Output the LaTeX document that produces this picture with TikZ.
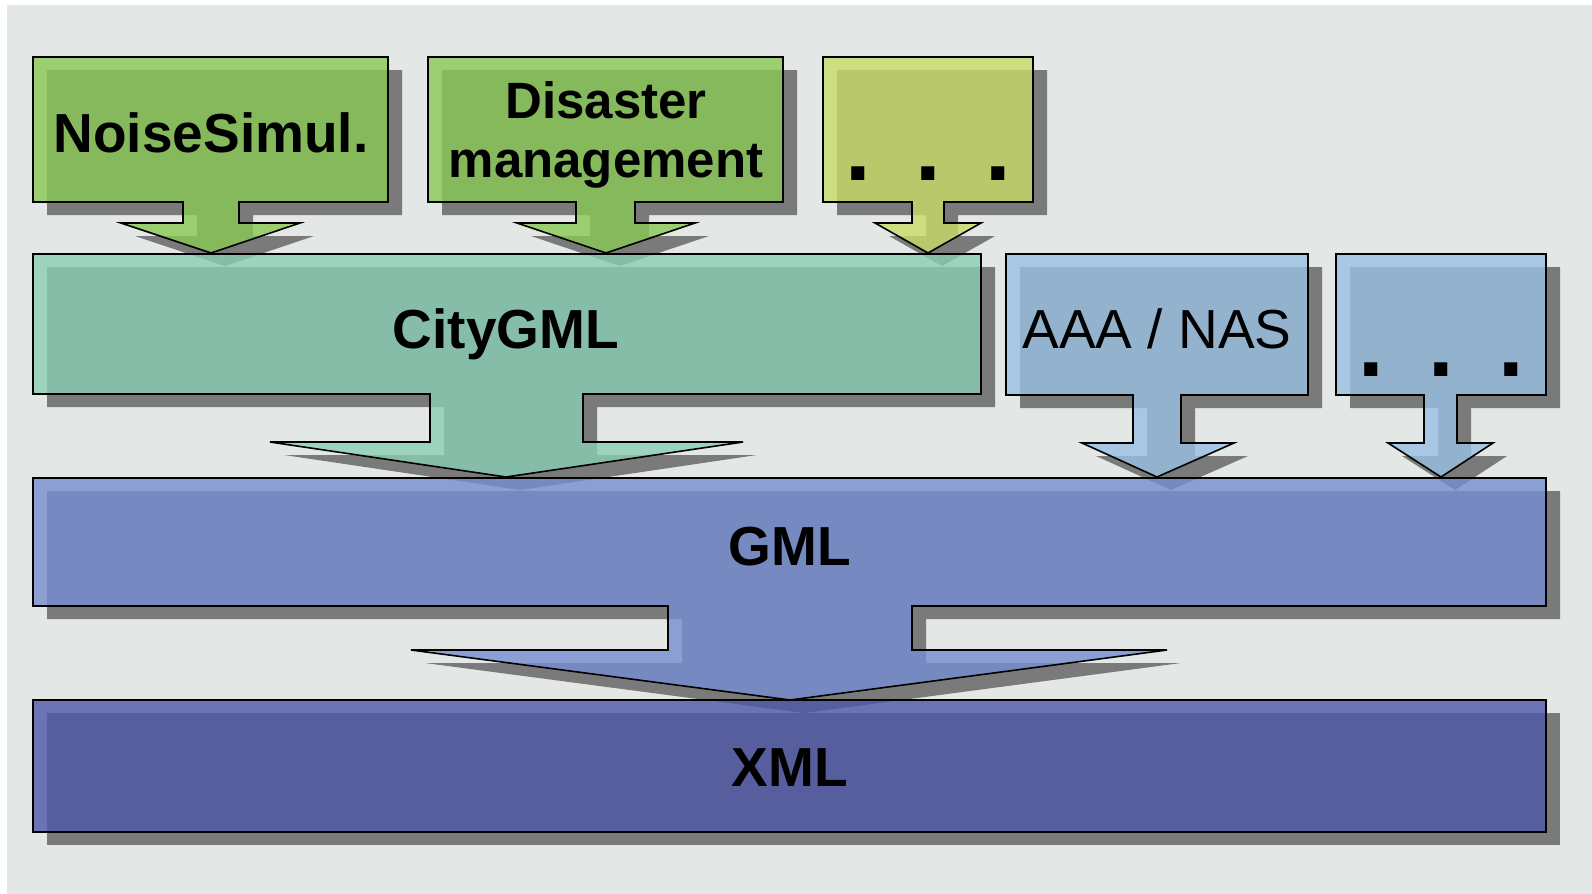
\documentclass[tikz,border=0pt]{standalone}
\usepackage{fontspec}
\setmainfont{Liberation Sans}
\usepackage{xcolor}

\definecolor{paper}{RGB}{227,231,229}
\definecolor{drop}{RGB}{122,122,122}
\definecolor{appgreen}{RGB}{138,200,85}
\definecolor{appyellow}{RGB}{200,220,103}
\definecolor{citygreen}{RGB}{138,206,180}
\definecolor{nasblue}{RGB}{152,192,228}
\definecolor{gmlblue}{RGB}{117,141,210}
\definecolor{xmlblue}{RGB}{77,87,168}

\begin{document}
\begin{tikzpicture}[x=0.5pt,y=-0.5pt,
  layer/.style={fill=#1,fill opacity=0.8,draw=black,line width=0.8pt,line join=miter},
  layershadow/.style={fill=drop,draw=none,shift={(14,13)}},
  boxtext/.style={font=\bfseries\fontsize{27.5}{32}\selectfont,anchor=base},
  thintext/.style={font=\fontsize{27.5}{32}\selectfont,anchor=base},
  moretext/.style={font=\bfseries\fontsize{46}{50}\selectfont,anchor=base,
    execute at begin node={\spaceskip=18pt\relax}}]

% page
\fill[white] (0,0) rectangle (1592,894);
\fill[paper] (7,5) rectangle (1592,894);

% box x1/y1/x2/y2, stem sa-sb down to w, wings wa-wb, tip tx/ty
\def\callouts{33/57/388/202/183/239/223/121/300/211/253/appgreen,
  428/57/783/202/576/635/223/517/695/606/253/appgreen,
  823/57/1033/202/912/944/223/875/981/928/253/appyellow,
  33/254/981/394/430/583/442/270/743/506/477/citygreen,
  1006/254/1308/395/1133/1181/443/1082/1234/1157/477/nasblue,
  1336/254/1546/395/1424/1457/443/1388/1493/1441/477/nasblue,
  33/478/1546/606/668/912/650/411/1167/790/700/gmlblue}

% shadows first, so the translucent layers darken over them
\foreach \x/\y/\X/\Y/\sa/\sb/\w/\wa/\wb/\tx/\ty/\col in \callouts
  \fill[layershadow] (\x,\y) -- (\X,\y) -- (\X,\Y) -- (\sb,\Y) -- (\sb,\w) -- (\wb,\w)
    -- (\tx,\ty) -- (\wa,\w) -- (\sa,\w) -- (\sa,\Y) -- (\x,\Y) -- cycle;
\fill[layershadow] (33,700) rectangle (1546,832);

\foreach \x/\y/\X/\Y/\sa/\sb/\w/\wa/\wb/\tx/\ty/\col in \callouts
  \draw[layer=\col] (\x,\y) -- (\X,\y) -- (\X,\Y) -- (\sb,\Y) -- (\sb,\w) -- (\wb,\w)
    -- (\tx,\ty) -- (\wa,\w) -- (\sa,\w) -- (\sa,\Y) -- (\x,\Y) -- cycle;
\draw[layer=xmlblue] (33,700) rectangle (1546,832);

% texts
\node[boxtext] (noise) at (211,152) {NoiseSimul.};
\node[font=\bfseries\fontsize{25.5}{29.5}\selectfont,align=center] (disaster) at (606,135)
  {Disaster\\management};
\node[moretext] (more1) at (928,180) {. . .};
\node[boxtext] (city) at (506,348) {CityGML};
\node[thintext] (nas) at (1157,348) {AAA / NAS};
\node[moretext] (more2) at (1441,376) {. . .};
\node[boxtext] (gml) at (790,565) {GML};
\node[boxtext] (xml) at (790,786) {XML};
\end{tikzpicture}
\end{document}
